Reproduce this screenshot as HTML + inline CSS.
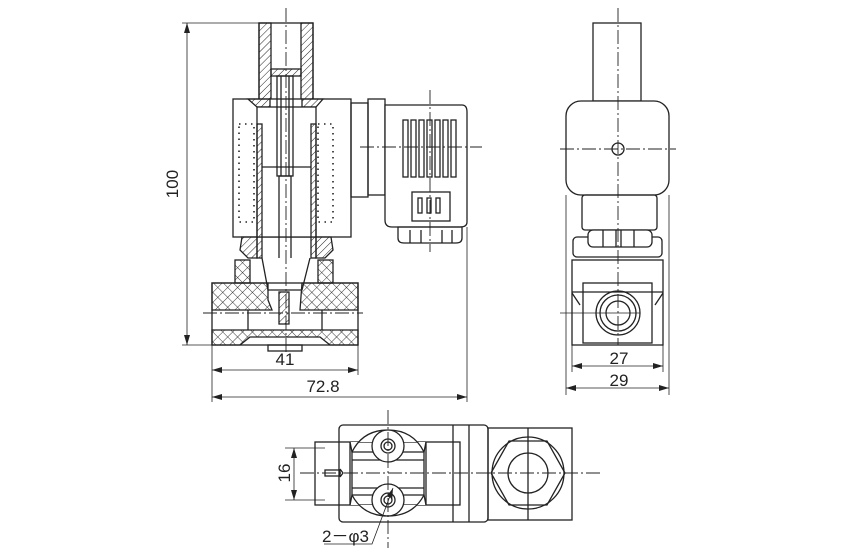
<!DOCTYPE html>
<html><head><meta charset="utf-8"><style>
html,body{margin:0;padding:0;background:#fff;}
svg{display:block;}
text{font-family:"Liberation Sans",sans-serif;fill:#222;}
</style></head><body>
<svg width="850" height="560" viewBox="0 0 850 560" xmlns="http://www.w3.org/2000/svg">
<defs>
<pattern id="h" width="5" height="5" patternUnits="userSpaceOnUse" patternTransform="rotate(45)">
<line x1="0" y1="0" x2="0" y2="5" stroke="#222" stroke-width="1"/></pattern>
<pattern id="x" width="7" height="7" patternUnits="userSpaceOnUse" patternTransform="rotate(45)">
<line x1="0" y1="0" x2="0" y2="7" stroke="#222" stroke-width="0.9"/><line x1="0" y1="0" x2="7" y2="0" stroke="#222" stroke-width="0.9"/></pattern>
<marker id="a" markerWidth="10" markerHeight="6" refX="10" refY="3" orient="auto-start-reverse" markerUnits="userSpaceOnUse"><path d="M0,0 L10,3 L0,6 z" fill="#222"/></marker>
</defs>
<g fill="none" stroke="#222" stroke-width="1.3">
<!-- ===== FRONT VIEW ===== -->
<rect x="259" y="23" width="12" height="77" fill="url(#h)"/>
<rect x="301" y="23" width="12" height="77" fill="url(#h)"/>
<rect x="271" y="69" width="30" height="7" fill="url(#h)"/>
<rect x="259" y="23" width="54" height="77"/>
<rect x="233" y="99" width="118" height="138" fill="#fff"/>
<path d="M248,99 H270 V107 H257 Z" fill="url(#h)"/>
<path d="M302,99 H323 L316,107 H302 Z" fill="url(#h)"/>
<rect x="257" y="107" width="59" height="130" fill="#fff"/>
<rect x="257" y="124" width="5" height="134" fill="url(#h)"/>
<rect x="311" y="124" width="5" height="134" fill="url(#h)"/>
<line x1="262" y1="167" x2="311" y2="167"/>
<rect x="277" y="76" width="16" height="100"/>
<line x1="281" y1="76" x2="281" y2="176"/>
<line x1="289" y1="76" x2="289" y2="176"/>
<rect x="279" y="176" width="12" height="90"/>
<rect x="239" y="124" width="15" height="98" stroke-dasharray="1.5 4.5" stroke-width="1.6"/>
<rect x="318" y="124" width="15" height="98" stroke-dasharray="1.5 4.5" stroke-width="1.6"/>
<path d="M242,237 H257 V258 H248 L240,250 Z" fill="url(#h)"/>
<path d="M316,237 H331 L333,250 L325,258 H316 Z" fill="url(#h)"/>
<rect x="235" y="260" width="15" height="23" fill="url(#x)"/>
<rect x="318" y="260" width="15" height="23" fill="url(#x)"/>
<path d="M262,258 L268,290 H302 L310,258" fill="#fff"/>
<path d="M212,283 H268 V300 L272,310 H212 Z" fill="url(#x)"/>
<path d="M302,283 H358 V310 H300 Z" fill="url(#x)"/>
<path d="M212,330 H358 V345 H330 L320,337 H250 L240,345 H212 Z" fill="url(#x)"/>
<rect x="212" y="283" width="146" height="62"/>
<line x1="248" y1="310" x2="248" y2="330"/><line x1="322" y1="310" x2="322" y2="330"/>
<rect x="279" y="292" width="10" height="32" fill="url(#h)"/>
<rect x="268" y="345" width="34" height="6"/>
<rect x="351" y="103" width="17" height="94"/>
<rect x="368" y="99" width="17" height="96"/>
<path d="M385,105 H462 Q467,105 467,112 V222 Q467,227 460,227 H392 Q385,227 385,220 Z" fill="#fff"/>
<g>
<rect x="403" y="120" width="5" height="57"/><rect x="411" y="120" width="5" height="57"/><rect x="419" y="120" width="5" height="57"/><rect x="427" y="120" width="5" height="57"/><rect x="435" y="120" width="5" height="57"/><rect x="443" y="120" width="5" height="57"/><rect x="451" y="120" width="5" height="57"/>
</g>
<rect x="412" y="192" width="38" height="29"/>
<rect x="418" y="198" width="4" height="15"/><rect x="427" y="198" width="4" height="15"/><rect x="436" y="198" width="4" height="15"/>
<path d="M398,227 H462 V238 Q462,243 456,243 H404 Q398,243 398,238 Z"/>
<line x1="410" y1="230" x2="410" y2="243"/><line x1="421" y1="230" x2="421" y2="243"/><line x1="442" y1="230" x2="442" y2="243"/><line x1="452" y1="230" x2="452" y2="243"/>
<g stroke-width="0.9" stroke-dasharray="14 3 2 3">
<line x1="286" y1="8" x2="286" y2="352"/>
<line x1="430" y1="90" x2="430" y2="252"/>
<line x1="360" y1="147" x2="482" y2="147"/>
<line x1="203" y1="313" x2="363" y2="313"/>
</g>
<line x1="182" y1="23" x2="259" y2="23" stroke-width="0.8"/>
<line x1="182" y1="345" x2="212" y2="345" stroke-width="0.8"/>
<line x1="187" y1="23" x2="187" y2="345" stroke-width="0.8" marker-start="url(#a)" marker-end="url(#a)"/>
<line x1="212" y1="345" x2="212" y2="402" stroke-width="0.8"/>
<line x1="358" y1="345" x2="358" y2="375" stroke-width="0.8"/>
<line x1="467" y1="227" x2="467" y2="402" stroke-width="0.8"/>
<line x1="212" y1="370" x2="358" y2="370" stroke-width="0.8" marker-start="url(#a)" marker-end="url(#a)"/>
<line x1="212" y1="397" x2="467" y2="397" stroke-width="0.8" marker-start="url(#a)" marker-end="url(#a)"/>

<!-- ===== SIDE VIEW ===== -->
<rect x="593" y="23" width="48" height="78"/>
<rect x="566" y="101" width="103" height="94" rx="15" fill="#fff"/>
<rect x="582" y="195" width="75" height="35" rx="3"/>
<rect x="573" y="237" width="89" height="20" rx="4"/>
<rect x="588" y="230" width="64" height="17" rx="5" fill="#fff"/>
<line x1="603" y1="230" x2="603" y2="247"/><line x1="616" y1="230" x2="616" y2="247"/><line x1="621" y1="230" x2="621" y2="247"/><line x1="634" y1="230" x2="634" y2="247"/>
<rect x="572" y="260" width="91" height="85"/>
<rect x="583" y="283" width="69" height="60"/>
<path d="M572,293 L580,305 M663,293 L655,305"/>
<line x1="572" y1="292" x2="663" y2="292"/>
<circle cx="618" cy="313" r="22"/><circle cx="618" cy="313" r="18"/><circle cx="618" cy="313" r="12"/>
<circle cx="618" cy="149" r="6"/>
<g stroke-width="0.9" stroke-dasharray="14 3 2 3">
<line x1="618" y1="8" x2="618" y2="345"/>
<line x1="560" y1="149" x2="676" y2="149"/>
</g>
<line x1="560" y1="313" x2="640" y2="313" stroke-width="0.8"/>
<line x1="566" y1="195" x2="566" y2="395" stroke-width="0.8"/>
<line x1="669" y1="195" x2="669" y2="395" stroke-width="0.8"/>
<line x1="572" y1="345" x2="572" y2="372" stroke-width="0.8"/>
<line x1="663" y1="345" x2="663" y2="372" stroke-width="0.8"/>
<line x1="572" y1="366" x2="663" y2="366" stroke-width="0.8" marker-start="url(#a)" marker-end="url(#a)"/>
<line x1="566" y1="388" x2="669" y2="388" stroke-width="0.8" marker-start="url(#a)" marker-end="url(#a)"/>

<!-- ===== BOTTOM VIEW ===== -->
<rect x="339" y="425" width="149" height="97" rx="4"/>
<rect x="315" y="442" width="145" height="63"/>
<path d="M350,442 L352,452 Q363,430 388,430 Q413,430 424,452 L426,442" fill="#fff"/>
<path d="M350,505 L352,495 Q363,516 388,516 Q413,516 424,495 L426,505" fill="#fff"/>
<path d="M352,452 H424 V495 H352 Z M350,442 V505 M426,442 V505"/>
<line x1="352" y1="460" x2="424" y2="460"/><line x1="352" y1="488" x2="424" y2="488"/>
<circle cx="388" cy="446" r="16" fill="#fff"/><circle cx="388" cy="446" r="7"/><circle cx="388" cy="446" r="4"/>
<circle cx="388" cy="500" r="16" fill="#fff"/><circle cx="388" cy="500" r="7"/><circle cx="388" cy="500" r="4"/>
<rect x="325" y="470" width="15" height="6"/><path d="M340,469 L343,473 L340,477"/>
<line x1="453" y1="425" x2="453" y2="522"/><line x1="469" y1="425" x2="469" y2="522"/>
<rect x="488" y="428" width="84" height="92"/>
<line x1="528" y1="428" x2="528" y2="520"/>
<polygon points="491,473 509,441 547,441 565,473 547,505 509,505"/>
<circle cx="528" cy="473" r="36"/>
<circle cx="528" cy="473" r="20"/>
<g stroke-width="0.9" stroke-dasharray="14 3 2 3">
<line x1="300" y1="473" x2="602" y2="473"/>
<line x1="388" y1="410" x2="388" y2="548"/>
</g>
<line x1="285" y1="448" x2="325" y2="448" stroke-width="0.8"/>
<line x1="285" y1="500" x2="325" y2="500" stroke-width="0.8"/>
<line x1="294" y1="448" x2="294" y2="500" stroke-width="0.8" marker-start="url(#a)" marker-end="url(#a)"/>
<path d="M324,544 H372 L393,488" stroke-width="0.8" marker-end="url(#a)"/>
</g>
<text x="178" y="184" font-size="17" text-anchor="middle" transform="rotate(-90 178 184)">100</text>
<text x="285" y="365" font-size="17" text-anchor="middle">41</text>
<text x="323" y="392" font-size="17" text-anchor="middle">72.8</text>
<text x="619" y="364" font-size="17" text-anchor="middle">27</text>
<text x="619" y="386" font-size="17" text-anchor="middle">29</text>
<text x="284" y="473" font-size="17" text-anchor="middle" transform="rotate(-90 284 473)" dy="6">16</text>
<text x="322" y="542" font-size="17">2－φ3</text>
</svg>
</body></html>
